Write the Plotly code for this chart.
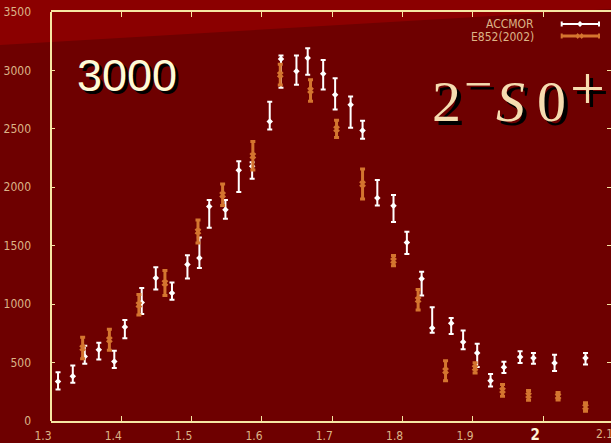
import plotly.graph_objects as go

# ACCMOR: mass (GeV), events, upper / lower errors
accmor_mass = [1.310, 1.331, 1.348, 1.368, 1.390, 1.405, 1.429, 1.449, 1.472, 1.494,
               1.511, 1.525, 1.548, 1.567, 1.586, 1.611, 1.627, 1.649, 1.665, 1.687,
               1.704, 1.726, 1.743, 1.764, 1.787, 1.806, 1.827, 1.842, 1.869, 1.886,
               1.906, 1.925, 1.944, 1.967, 1.986, 2.016, 2.060]
accmor_events = [339, 382, 553, 610, 510, 804, 1015, 1224, 1095, 1340,
                 1395, 1836, 1808, 2145, 2179, 2564, 3098, 2992, 3106, 2972,
                 2792, 2707, 2487, 1908, 1842, 1528, 1218, 796, 836, 676,
                 582, 345, 459, 548, 539, 496, 539]
accmor_err_up = [78, 92, 92, 60, 92, 60, 124, 91, 91, 78,
                 176, 55, 83, 78, 35, 169, 29, 135, 83, 118,
                 140, 69, 83, 154, 92, 92, 60, 178, 46, 98,
                 78, 58, 49, 49, 43, 72, 43]
accmor_err_down = [69, 55, 63, 84, 57, 95, 100, 98, 58, 120,
                   86, 183, 78, 185, 106, 69, 246, 114, 143, 135,
                   126, 197, 72, 63, 140, 98, 144, 41, 92, 63,
                   120, 49, 49, 52, 49, 69, 55]

# E852 (2002)
e852_mass = [1.345, 1.383, 1.425, 1.462, 1.509, 1.544, 1.587, 1.626, 1.669, 1.706,
             1.743, 1.787, 1.822, 1.861, 1.903, 1.942, 1.979, 2.021, 2.060]
e852_events = [625, 696, 995, 1181, 1622, 1936, 2270, 2964, 2829, 2499,
               2028, 1372, 1038, 430, 454, 262, 219, 211, 120]
e852_err = [92, 90, 87, 106, 99, 92, 122, 89, 92, 74,
            129, 44, 88, 85, 44, 50, 42, 32, 37]

x_ticks = [1.3, 1.4, 1.5, 1.6, 1.7, 1.8, 1.9, 2.0]
x_tick_text = ["1.3", "1.4", "1.5", "1.6", "1.7", "1.8", "1.9",
               "<span style='font-size:15px;fill:#fff4d6'><b>2</b></span>"]
y_ticks = [0, 500, 1000, 1500, 2000, 2500, 3000, 3500]

BG_DARK = "#6e0000"
BG_LIGHT = "#8b0000"
AXIS = "#f6e6a2"
TICK_FONT = "#dcb487"
NARROW = "Liberation Sans Narrow, DejaVu Sans Condensed, Arial Narrow, sans-serif"
SERIF = "Liberation Serif, Times New Roman, serif"
WHITE = "#ffffff"
ORANGE = "#d4752f"

fig = go.Figure()

fig.add_trace(go.Scatter(
    x=accmor_mass, y=accmor_events, mode="markers", name="ACCMOR",
    marker=dict(symbol="diamond", size=5, color=WHITE),
    error_y=dict(type="data", symmetric=False, array=accmor_err_up,
                 arrayminus=accmor_err_down, color=WHITE, thickness=2, width=2.5),
    showlegend=False,
))
fig.add_trace(go.Scatter(
    x=e852_mass, y=e852_events, mode="markers", name="E852(2002)",
    marker=dict(symbol="x", size=6, color=ORANGE),
    error_y=dict(type="data", array=e852_err, color=ORANGE, thickness=3, width=2.5),
    showlegend=False,
))

# plot area in pixels: x 51..611, y 12..421.3
L, R, T, B = 51.0, 611.0, 12.0, 421.3


def px(x):
    return (x - L) / (R - L)


def py(y):
    return (B - y) / (B - T)


shapes = [
    # lighter wedge across the top
    dict(type="path", xref="paper", yref="paper", layer="below",
         path=f"M {px(0)} {py(0)} L {px(611)} {py(0)} L {px(611)} {py(9)} L {px(0)} {py(45)} Z",
         fillcolor=BG_LIGHT, line=dict(width=0)),
    # left frame line
    dict(type="line", xref="paper", yref="paper", x0=0, x1=0, y0=0, y1=1,
         line=dict(color=AXIS, width=2)),
]

# hand-drawn legend (line with caps and marker)
leg_x0, leg_x1, leg_xm = px(561.7), px(599), px(580)
for yy, col, w in [(24, WHITE, 2), (36, ORANGE, 3)]:
    yc = py(yy)
    dy = 2.5 / (B - T)
    shapes.append(dict(type="line", xref="paper", yref="paper", x0=leg_x0, x1=leg_x1,
                       y0=yc, y1=yc, line=dict(color=col, width=w)))
    for xe in (leg_x0, leg_x1):
        shapes.append(dict(type="line", xref="paper", yref="paper", x0=xe, x1=xe,
                           y0=yc - dy, y1=yc + dy, line=dict(color=col, width=2)))
dx = 3 / (R - L)
dyy = 3 / (B - T)
yc = py(24)
shapes.append(dict(type="path", xref="paper", yref="paper",
                   path=f"M {leg_xm - dx} {yc} L {leg_xm} {yc + dyy} L {leg_xm + dx} {yc} L {leg_xm} {yc - dyy} Z",
                   fillcolor=WHITE, line=dict(width=0)))
yc = py(36)
for xm in (px(577.7), px(581.7)):
    shapes.append(dict(type="path", xref="paper", yref="paper",
                       path=f"M {xm - dx*0.8} {yc} L {xm} {yc + dyy} L {xm + dx*0.8} {yc} L {xm} {yc - dyy} Z",
                       fillcolor=ORANGE, line=dict(width=0)))

annotations = [
    dict(text="ACCMOR", xref="paper", yref="paper", x=px(536), y=py(24),
         xanchor="right", yanchor="middle", showarrow=False,
         font=dict(family=NARROW, size=12, color=TICK_FONT)),
    dict(text="E852(2002)", xref="paper", yref="paper", x=px(536), y=py(37),
         xanchor="right", yanchor="middle", showarrow=False,
         font=dict(family=NARROW, size=12, color=TICK_FONT)),
    dict(text="2.1", xref="paper", yref="paper", x=px(604), y=py(434),
         xanchor="center", yanchor="middle", showarrow=False,
         font=dict(family=NARROW, size=12, color=TICK_FONT)),
]

# big labels with drop shadows
title_big = "3000"
# pieces of the spin-parity label: (text, left x px, middle y px, size, italic)
state_parts = [
    ("2", 430, 102, 58, False),
    ("\u2212", 462, 84, 50, False),
    ("S", 494, 102, 58, True),
    ("0", 535, 102, 58, False),
    ("+", 568, 88, 62, False),
]
for shift, col in [((3, -3), "#000000"), ((0, 0), "#fffbd6")]:
    annotations.append(dict(text=title_big, xref="paper", yref="paper", x=px(75), y=py(76),
                            xanchor="left", yanchor="middle", showarrow=False,
                            xshift=shift[0], yshift=shift[1],
                            font=dict(family="Liberation Sans, Arial, sans-serif", size=45, color=col)))
for shift, col in [((4, -4), "#000000"), ((0, 0), "#f5dcb0")]:
    for txt, xl, ym, sz, it in state_parts:
        annotations.append(dict(text=f"<i>{txt}</i>" if it else txt,
                                xref="paper", yref="paper", x=px(xl), y=py(ym),
                                xanchor="left", yanchor="middle", showarrow=False,
                                xshift=shift[0], yshift=shift[1],
                                font=dict(family=SERIF, size=sz, color=col)))

fig.update_layout(
    width=611, height=443,
    margin=dict(l=51, r=0, t=12, b=21.7, pad=0),
    paper_bgcolor=BG_DARK, plot_bgcolor=BG_DARK,
    shapes=shapes, annotations=annotations,
    xaxis=dict(range=[1.3, 1.3 + (R - L) / 703.3], tickvals=x_ticks, ticktext=x_tick_text,
               ticks="inside", ticklen=5, tickwidth=1, tickcolor=AXIS,
               showline=True, linecolor=AXIS, linewidth=2, mirror="ticks",
               showgrid=False, zeroline=False, ticklabelshift=-8, ticklabelstandoff=3,
               tickfont=dict(family=NARROW, size=12, color=TICK_FONT)),
    yaxis=dict(range=[0, 3500], tickvals=y_ticks,
               ticks="inside", ticklen=4, tickwidth=1, tickcolor=AXIS,
               showline=False, mirror="ticks",
               showgrid=False, zeroline=False, ticklabelstandoff=19,
               tickfont=dict(family=NARROW, size=12, color=TICK_FONT)),
)

fig.write_html("out.html")
